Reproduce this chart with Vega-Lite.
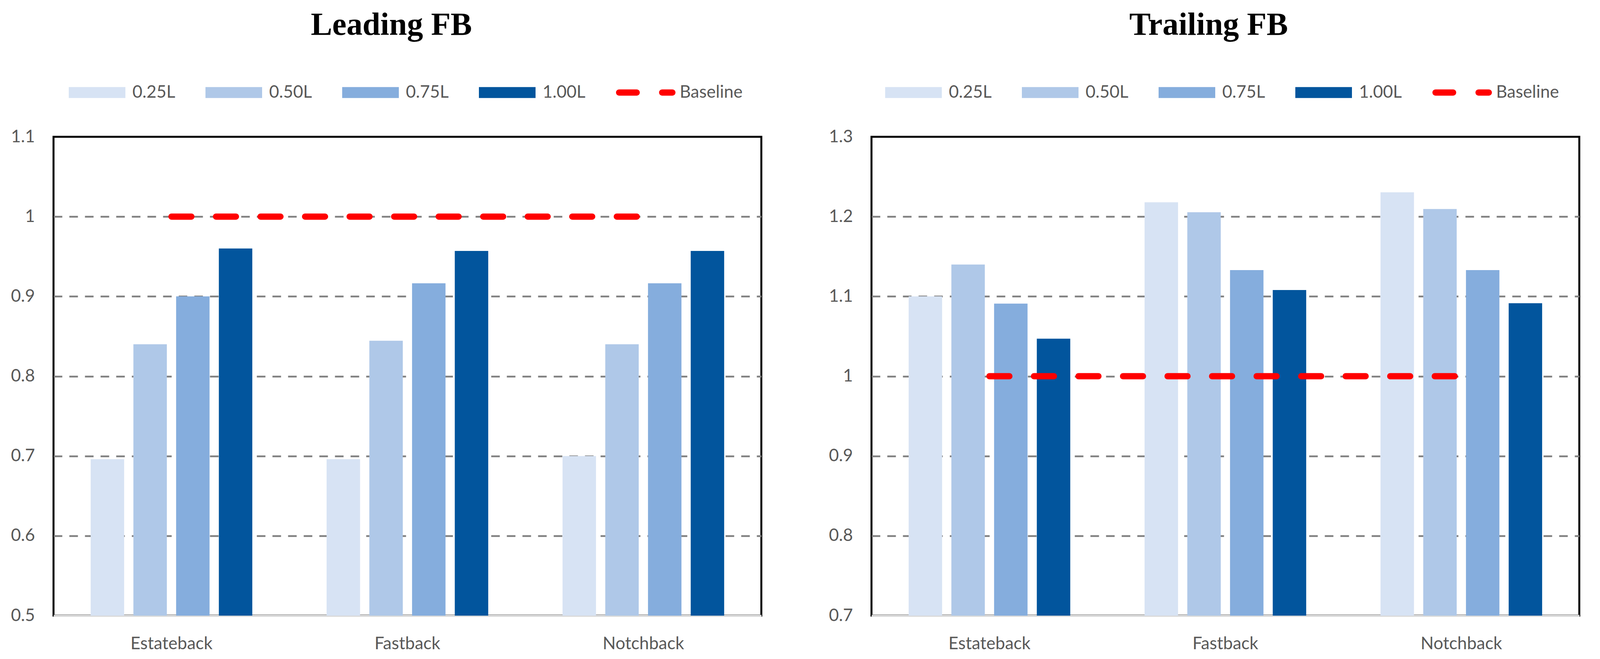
{
  "$schema": "https://vega.github.io/schema/vega-lite/v6.json",
  "background": "white",
  "padding": {"left": 25, "top": 20, "right": 20, "bottom": 10},
  "datasets": {
    "bars": [
      {"panel": "Leading FB", "category": "Estateback", "level": "0.25L", "value": 0.696},
      {"panel": "Leading FB", "category": "Estateback", "level": "0.50L", "value": 0.840},
      {"panel": "Leading FB", "category": "Estateback", "level": "0.75L", "value": 0.900},
      {"panel": "Leading FB", "category": "Estateback", "level": "1.00L", "value": 0.960},
      {"panel": "Leading FB", "category": "Fastback", "level": "0.25L", "value": 0.696},
      {"panel": "Leading FB", "category": "Fastback", "level": "0.50L", "value": 0.8445},
      {"panel": "Leading FB", "category": "Fastback", "level": "0.75L", "value": 0.9165},
      {"panel": "Leading FB", "category": "Fastback", "level": "1.00L", "value": 0.957},
      {"panel": "Leading FB", "category": "Notchback", "level": "0.25L", "value": 0.700},
      {"panel": "Leading FB", "category": "Notchback", "level": "0.50L", "value": 0.840},
      {"panel": "Leading FB", "category": "Notchback", "level": "0.75L", "value": 0.9165},
      {"panel": "Leading FB", "category": "Notchback", "level": "1.00L", "value": 0.957},
      {"panel": "Trailing FB", "category": "Estateback", "level": "0.25L", "value": 1.100},
      {"panel": "Trailing FB", "category": "Estateback", "level": "0.50L", "value": 1.140},
      {"panel": "Trailing FB", "category": "Estateback", "level": "0.75L", "value": 1.091},
      {"panel": "Trailing FB", "category": "Estateback", "level": "1.00L", "value": 1.047},
      {"panel": "Trailing FB", "category": "Fastback", "level": "0.25L", "value": 1.218},
      {"panel": "Trailing FB", "category": "Fastback", "level": "0.50L", "value": 1.2055},
      {"panel": "Trailing FB", "category": "Fastback", "level": "0.75L", "value": 1.133},
      {"panel": "Trailing FB", "category": "Fastback", "level": "1.00L", "value": 1.108},
      {"panel": "Trailing FB", "category": "Notchback", "level": "0.25L", "value": 1.2305},
      {"panel": "Trailing FB", "category": "Notchback", "level": "0.50L", "value": 1.2095},
      {"panel": "Trailing FB", "category": "Notchback", "level": "0.75L", "value": 1.133},
      {"panel": "Trailing FB", "category": "Notchback", "level": "1.00L", "value": 1.0915}
    ],
    "base": [
      {"panel": "Leading FB", "category": "Estateback", "level": "Baseline", "value": 1},
      {"panel": "Leading FB", "category": "Fastback", "level": "Baseline", "value": 1},
      {"panel": "Leading FB", "category": "Notchback", "level": "Baseline", "value": 1},
      {"panel": "Trailing FB", "category": "Estateback", "level": "Baseline", "value": 1},
      {"panel": "Trailing FB", "category": "Fastback", "level": "Baseline", "value": 1},
      {"panel": "Trailing FB", "category": "Notchback", "level": "Baseline", "value": 1}
    ]
  },
  "spacing": 167,
  "resolve": {"scale": {"color": "independent", "y": "independent"}, "legend": {"color": "independent"}},
  "hconcat": [
    {
      "title": {"text": "Leading FB", "dx": -41},
      "width": 1812,
      "height": 1225,
      "layer": [
        {
          "data": {"name": "bars"},
          "transform": [{"filter": "datum.panel === 'Leading FB'"}],
          "mark": {"type": "bar", "clip": true},
          "encoding": {
            "x": {"field": "category", "type": "nominal", "scale": {"paddingInner": 0.315, "paddingOuter": 0.1575}},
            "xOffset": {"field": "level", "type": "nominal", "scale": {"paddingInner": 0.217, "paddingOuter": 0}},
            "y": {"field": "value", "type": "quantitative", "scale": {"domain": [0.5, 1.1], "zero": false, "nice": false},
                  "axis": {"values": [0.5, 0.6, 0.7, 0.8, 0.9, 1.0, 1.1],
                           "gridColor": {"condition": {"test": "datum.value < 0.55 || datum.value > 1.05", "value": "transparent"}, "value": "#808080"}}},
            "color": {"field": "level", "type": "nominal",
                      "legend": {"encode": {"symbols": {"update": {
                        "shape": {"signal": "datum.value === 'Baseline' ? 'M-0.89,-0.11H-0.27A0.11,0.11 0 0 1 -0.27,0.11H-0.89A0.11,0.11 0 0 1 -0.89,-0.11Z M0.63,-0.11H0.99A0.11,0.11 0 0 1 0.99,0.11H0.63A0.11,0.11 0 0 1 0.63,-0.11Z' : 'M-1,-0.193H1V0.193H-1Z'"},
                        "fill": {"signal": "datum.value === 'Baseline' ? '#ff0000' : datum.value === '0.25L' ? '#d7e3f4' : datum.value === '0.50L' ? '#afc8e8' : datum.value === '0.75L' ? '#85addd' : '#02559d'"},
                        "strokeWidth": {"value": 0},
                        "opacity": {"value": 1}
                      }}}}}
          }
        },
        {
          "data": {"name": "base"},
          "transform": [{"filter": "datum.panel === 'Leading FB'"}],
          "mark": {"type": "line", "strokeWidth": 16, "strokeDash": [51, 63], "strokeCap": "round"},
          "encoding": {
            "x": {"field": "category", "type": "nominal"},
            "y": {"field": "value", "type": "quantitative"},
            "color": {"field": "level", "type": "nominal"}
          }
        }
      ]
    },
    {
      "title": {"text": "Trailing FB", "dx": -43},
      "width": 1812,
      "height": 1225,
      "layer": [
        {
          "data": {"name": "bars"},
          "transform": [{"filter": "datum.panel === 'Trailing FB'"}],
          "mark": {"type": "bar", "clip": true},
          "encoding": {
            "x": {"field": "category", "type": "nominal", "scale": {"paddingInner": 0.315, "paddingOuter": 0.1575}},
            "xOffset": {"field": "level", "type": "nominal", "scale": {"paddingInner": 0.217, "paddingOuter": 0}},
            "y": {"field": "value", "type": "quantitative", "scale": {"domain": [0.7, 1.3], "zero": false, "nice": false},
                  "axis": {"values": [0.7, 0.8, 0.9, 1.0, 1.1, 1.2, 1.3],
                           "gridColor": {"condition": {"test": "datum.value < 0.75 || datum.value > 1.25", "value": "transparent"}, "value": "#808080"}}},
            "color": {"field": "level", "type": "nominal",
                      "legend": {"legendX": 35, "encode": {"symbols": {"update": {
                        "shape": {"signal": "datum.value === 'Baseline' ? 'M-0.89,-0.11H-0.27A0.11,0.11 0 0 1 -0.27,0.11H-0.89A0.11,0.11 0 0 1 -0.89,-0.11Z M0.63,-0.11H0.99A0.11,0.11 0 0 1 0.99,0.11H0.63A0.11,0.11 0 0 1 0.63,-0.11Z' : 'M-1,-0.193H1V0.193H-1Z'"},
                        "fill": {"signal": "datum.value === 'Baseline' ? '#ff0000' : datum.value === '0.25L' ? '#d7e3f4' : datum.value === '0.50L' ? '#afc8e8' : datum.value === '0.75L' ? '#85addd' : '#02559d'"},
                        "strokeWidth": {"value": 0},
                        "opacity": {"value": 1}
                      }}}}}
          }
        },
        {
          "data": {"name": "base"},
          "transform": [{"filter": "datum.panel === 'Trailing FB'"}],
          "mark": {"type": "line", "strokeWidth": 16, "strokeDash": [51, 63], "strokeCap": "round"},
          "encoding": {
            "x": {"field": "category", "type": "nominal"},
            "y": {"field": "value", "type": "quantitative"},
            "color": {"field": "level", "type": "nominal"}
          }
        }
      ]
    }
  ],
  "config": {
    "view": {"stroke": "#000000", "strokeWidth": 5, "fill": "white"},
    "font": "Lato",
    "title": {"font": "Liberation Serif", "fontSize": 82, "fontWeight": "bold", "color": "#000000", "anchor": "middle", "baseline": "alphabetic", "offset": 58},
    "range": {"category": ["#d7e3f4", "#afc8e8", "#85addd", "#02559d", "#ff0000"]},
    "axis": {"labelFont": "Lato", "labelFontSize": 44, "labelColor": "#595959", "ticks": false, "tickSize": 0, "title": null, "labelLimit": 0},
    "axisX": {"domain": true, "domainColor": "#d9d9d9", "domainWidth": 5, "zindex": 1, "grid": false, "labelPadding": 50, "labelAngle": 0},
    "axisY": {"domain": false, "grid": true, "gridDash": [22, 18], "gridWidth": 4.5, "labelPadding": 48, "format": "~g"},
    "legend": {
      "orient": "none",
      "legendX": 39,
      "legendY": -186,
      "direction": "horizontal",
      "title": null,
      "padding": 0,
      "symbolType": "M-1,-0.193H1V0.193H-1Z",
      "symbolSize": 21025,
      "symbolStrokeWidth": 0,
      "symbolOpacity": 1,
      "labelFont": "Lato",
      "labelFontSize": 44,
      "labelColor": "#595959",
      "labelOffset": 18,
      "columnPadding": 77,
      "labelLimit": 0
    }
  }
}
